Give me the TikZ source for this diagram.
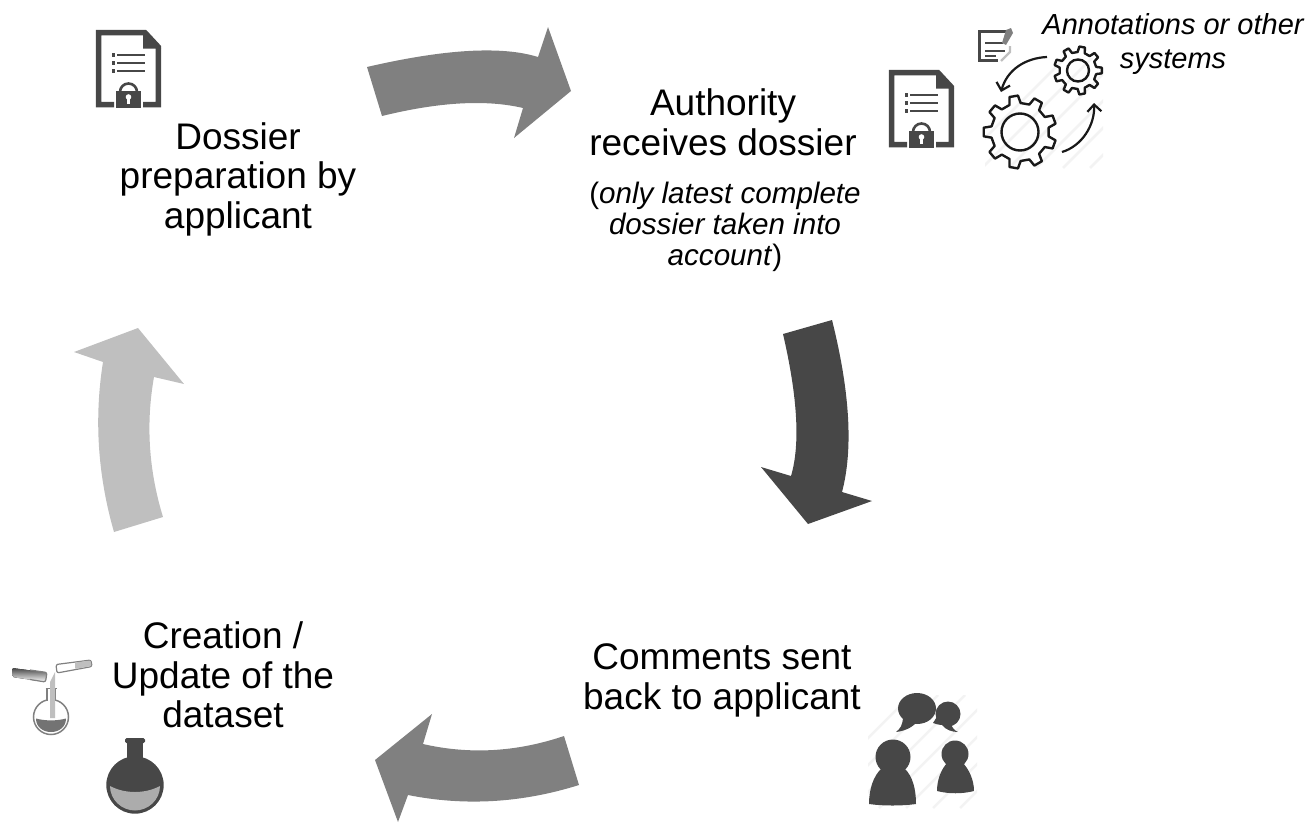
\documentclass[tikz,border=0pt]{standalone}
\usepackage{fontspec}
\setmainfont{Liberation Sans}
\usetikzlibrary{arrows.meta}
\definecolor{icondark}{HTML}{474747}
\definecolor{arrowmid}{HTML}{808080}
\definecolor{arrowlight}{HTML}{BFBFBF}
\definecolor{hatchgrey}{HTML}{F3F3F3}
\tikzset{
  bigtext/.style={font=\fontsize{37}{39.5}\selectfont,align=center,inner sep=0pt,text=black},
  smalltext/.style={font=\fontsize{29}{33.5}\selectfont\itshape,align=center,inner sep=0pt,text=black},
  blockdark/.style={fill=icondark,draw=none},
  blockmid/.style={fill=arrowmid,draw=none},
  blocklight/.style={fill=arrowlight,draw=none},
  hatchline/.style={draw=hatchgrey,line width=2.5pt},
  geardraw/.style={draw=black!90,line width=2.4pt,line join=round},
  curvedarrow/.style={draw=black!90,line width=2.2pt,-{Straight Barb[length=7pt,width=14pt,line width=2.2pt]}},
  pics/docicon/.style={code={
    \draw[icondark,line width=5.5pt,line join=miter] (114,104.5) -- (98.7,104.5) -- (98.7,32.7) -- (145,32.7) -- (158.3,47) -- (158.3,104.5) -- (143,104.5);
    \fill[icondark] (143,30) -- (161,48.5) -- (143,48.5) -- cycle;
    \foreach \yy in {55,63,71}{
      \fill[icondark] (112,\yy-1.6) rectangle (115,\yy+1.6);
      \fill[icondark] (117,\yy-1.4) rectangle (145,\yy+1.4);
    }
    \draw[icondark,line width=2.6pt] (120,92) arc[start angle=180,end angle=360,radius=8.5];
    \fill[icondark] (116,91) rectangle (141,108);
    \fill[white] (128.5,97) circle[radius=2.8];
    \fill[white] (127.3,97) rectangle (129.7,104);
  }}
}
\newcommand{\gearshape}[6]{% cx cy router rroot teeth rotation
  \pgfmathsetmacro{\gstep}{360/#5}
  \draw[geardraw,shift={(#1,#2)}]
    (#6-0.28*\gstep:#4)
    \foreach \gi in {1,...,#5}{
      -- (#6+\gi*\gstep-\gstep-0.17*\gstep:#3)
      -- (#6+\gi*\gstep-\gstep+0.17*\gstep:#3)
      -- (#6+\gi*\gstep-\gstep+0.28*\gstep:#4)
      -- (#6+\gi*\gstep-0.28*\gstep:#4)
    } -- cycle;
}
\begin{document}
\begin{tikzpicture}[x=1pt,y=-1pt]
\useasboundingbox (0,0) rectangle (1309,822);
% block arrows
\path[blockmid] (367,67) .. controls (444.7,49) and (501.7,45.7) .. (538,57) -- (548,27) -- (571,91) -- (514,138) -- (523,108)
  .. controls (486,99.3) and (439,102) .. (382,116) -- cycle;
\path[blockdark] (832,320) .. controls (850,392) and (853.3,449.3) .. (842,492) -- (872,501) -- (808,524) -- (761,467) -- (791,476)
  .. controls (800.3,444.7) and (797.7,397.3) .. (783,334) -- cycle;
\path[blockmid] (564,736) .. controls (516.7,752) and (469.7,754.7) .. (423,744) -- (432,714) -- (375,760) -- (398,822) -- (408,795)
  .. controls (464.7,806.3) and (521.7,803) .. (579,785) -- cycle;
\path[blocklight] (163,517) .. controls (148.7,470.3) and (145.7,423.7) .. (154,377) -- (184,384) -- (138,328) -- (74,352) -- (103,362)
  .. controls (94,418.7) and (97.7,475.3) .. (114,532) -- cycle;
% text
\node[bigtext] (dossier) at (238,179) {Dossier\\preparation by\\applicant};
\node[bigtext] (authority) at (723,122.5) {Authority\\receives dossier};
\node[smalltext,font=\fontsize{29.6}{31}\selectfont] (note) at (725,226.5) {(\textit{only latest complete}\\\textit{dossier taken into}\\\textit{account})};
\node[smalltext] (annot) at (1173,44) {Annotations or other\\systems};
\node[bigtext] (comments) at (722,680.5) {Comments sent\\back to applicant};
\node[bigtext] (creation) at (223,675) {Creation /\\Update of the\\dataset};
% document icons
\pic (docone) at (0,0) {docicon};
\pic (doctwo) at (793,40) {docicon};
% gears hatch
\begin{scope}
\clip (985,58) rectangle (1103,168);
\foreach \hh in {0,27,54,81,108,135,162}{
  \draw[hatchline] (985+\hh-30,168) -- (985+\hh+110-30,58);
}
\end{scope}
% note icon
\draw[icondark,line width=3pt] (1007,31.5) -- (979.5,31.5) -- (979.5,60.5) -- (998,60.5);
\draw[icondark,line width=2.8pt] (985,43) -- (1003,43) (985,51) -- (1005,51) (985,56) -- (996,56);
\draw[arrowlight,line width=2.4pt] (1010,46) -- (1010,52) -- (1001,61);
\fill[arrowmid] (1002,43) -- (1006,30) -- (1011,28) -- (1013,33) -- (1006,45) -- cycle;
% gears
\gearshape{1020}{132}{36.5}{29}{9}{20}
\draw[black!90,line width=2.4pt] (1020,132) circle[radius=18.5];
\gearshape{1078}{70.5}{24}{18.5}{9}{0}
\draw[black!90,line width=2.4pt] (1078,70.5) circle[radius=11];
\coordinate (gearA) at (1047,57);
\coordinate (gearB) at (1001,92);
\coordinate (gearC) at (1062,152);
\coordinate (gearD) at (1094,103);
\draw[curvedarrow] (gearA) .. controls (1025,58) and (1007,70) .. (gearB);
\draw[curvedarrow] (gearC) .. controls (1082,146) and (1095,125) .. (gearD);
% people hatch
\begin{scope}
\clip (868,695) rectangle (977,808);
\foreach \hh in {0,27,54,81,108,135,162,189}{
  \draw[hatchline] (868+\hh-70,808) -- (868+\hh+113-70,695);
}
\end{scope}
% people icon
\fill[icondark] (917,708.5) ellipse[x radius=19,y radius=15.5];
\fill[icondark] (903,716) .. controls (903,725) and (900,729) .. (896,732) .. controls (905,731) and (914,727) .. (918,720) -- cycle;
\fill[icondark] (948,714) ellipse[x radius=12.5,y radius=12.5];
\fill[icondark] (940,712) -- (933,723) .. controls (938,725) and (942,725) .. (945,725) -- cycle;
\fill[icondark] (950,722) .. controls (952,728) and (955,731) .. (958,732) .. controls (952,732) and (946,730) .. (942,725) -- cycle;
\fill[icondark] (893,757) circle[radius=17.5];
\fill[icondark] (869,804) .. controls (869,790) and (873,776) .. (882,768) -- (904,768) .. controls (913,776) and (916,790) .. (916,804) .. controls (902,806) and (883,806) .. (869,804) -- cycle;
\fill[icondark] (955,754) circle[radius=13.5];
\fill[icondark] (937,791) .. controls (937,780) and (941,769) .. (948,762) -- (962,762) .. controls (969,769) and (974,780) .. (974,791) .. controls (962,794) and (949,794) .. (937,791) -- cycle;
% big flask
\fill[icondark] (127,741) rectangle (143,765);
\fill[icondark,rounded corners=1.5pt] (125,738) rectangle (145,743);
\fill[icondark] (135,785) circle[radius=28.7];
\fill[arrowlight!90!black] (110,786) .. controls (125,794) and (145,794) .. (160,786) .. controls (160,800) and (148,810.5) .. (135,810.5) .. controls (122,810.5) and (110,800) .. (110,786) -- cycle;
% small flask
\draw[arrowmid,line width=1.5pt,fill=white] (51,717) circle[radius=17.5];
\fill[white] (46.5,688) rectangle (55.5,702);
\draw[arrowmid,line width=1.5pt] (47,689) -- (47,701) (55,689) -- (55,701);
\draw[arrowmid,line width=1.5pt] (45.5,688.5) -- (57,688.5);
\fill[arrowmid!90!black] (36,718.5) .. controls (45,721) and (57,721) .. (66,718.5) .. controls (66,727) and (59,732) .. (51,732) .. controls (43,732) and (36,727) .. (36,718.5) -- cycle;
\fill[arrowlight] (50,682) -- (55,672) -- (55,718) -- (50,718) -- cycle;
\fill[left color=icondark,right color=white,shading angle=0,rounded corners=2pt]
  (12,668) -- (47,672.5) -- (45.5,682) -- (12,677) -- cycle;
\draw[arrowmid,line width=1.2pt,rounded corners=2pt] (30,670) -- (47,672.5) -- (45.5,682) -- (30,679.5);
\draw[arrowmid,line width=1.2pt,line cap=round,fill=white,rounded corners=2pt] (56,664.5) -- (91,660) -- (92,666.5) -- (57,673) -- cycle;
\fill[arrowlight,rounded corners=1pt] (75,662.5) -- (90.5,660.5) -- (91.5,666) -- (75,669) -- cycle;
\end{tikzpicture}
\end{document}
